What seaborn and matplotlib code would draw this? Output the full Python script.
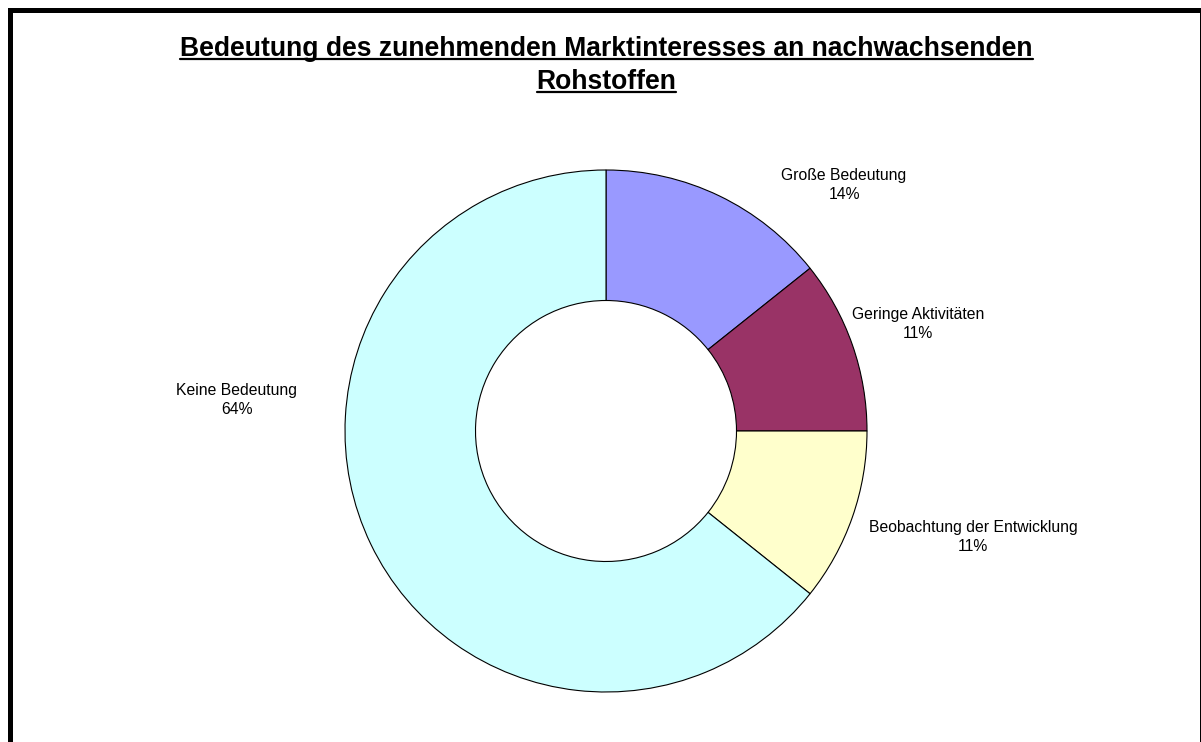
import matplotlib
matplotlib.use('Agg')
import matplotlib.pyplot as plt
import seaborn as sns
from matplotlib.patches import Rectangle
from matplotlib.lines import Line2D

# ---- data ----
categories = ['Große Bedeutung', 'Geringe Aktivitäten',
              'Beobachtung der Entwicklung', 'Keine Bedeutung']
counts = [4, 3, 3, 18]
pct_labels = ['14%', '11%', '11%', '64%']
colors = ['#9999FF', '#993366', '#FFFFCC', '#CCFFFF']
title_lines = ['Bedeutung des zunehmenden Marktinteresses an nachwachsenden',
               'Rohstoffen']

# ---- layout (pixels) ----
W, H = 1201, 742
CX, CY, R = 606, 431, 261
label_px = [(844, 185), (918, 324), (973, 537), (237, 400)]
title_x = 606.5
title_baselines = [56, 89]

sns.set_theme(style='white')
plt.rcParams['font.family'] = ['Liberation Sans', 'DejaVu Sans']

fig = plt.figure(figsize=(W / 100, H / 100), dpi=100)
fig.patch.set_facecolor('white')
ax = fig.add_axes([0, 0, 1, 1])

palette = sns.color_palette(colors)
wedges, _ = ax.pie(counts, colors=palette, startangle=90, counterclock=False,
                   radius=1,
                   wedgeprops=dict(width=0.5, edgecolor='black', linewidth=0.8))
ax.set_aspect('auto')
ax.set_xlim(-CX / R, (W - CX) / R)
ax.set_ylim(-(H - CY) / R, CY / R)
ax.axis('off')

for cat, pct, (px, py) in zip(categories, pct_labels, label_px):
    ax.text((px - CX) / R, (CY - py) / R, f'{cat}\n{pct}', ha='center',
            va='center', fontsize=11.3, color='black', linespacing=1.32)

# title with underline
title_texts = []
for line, by in zip(title_lines, title_baselines):
    t = fig.text(title_x / W, 1 - by / H, line, ha='center', va='baseline',
                 fontsize=19.1, fontweight='bold', color='black')
    title_texts.append((t, by))

fig.canvas.draw()
renderer = fig.canvas.get_renderer()
for t, by in title_texts:
    bb = t.get_window_extent(renderer)
    uy = 1 - (by + 3) / H
    fig.add_artist(Line2D([bb.x0 / W, bb.x1 / W], [uy, uy],
                          transform=fig.transFigure, color='black', lw=1.6))

# outer frame
left, top, right = 9.5, 9.5, 1201.5
fig.add_artist(Rectangle((left / W, -0.05), (right - left) / W,
                         1 - top / H + 0.05, transform=fig.transFigure,
                         fill=False, edgecolor='black', linewidth=3.6,
                         clip_on=False))

fig.savefig('out.png', dpi=100, facecolor='white')
